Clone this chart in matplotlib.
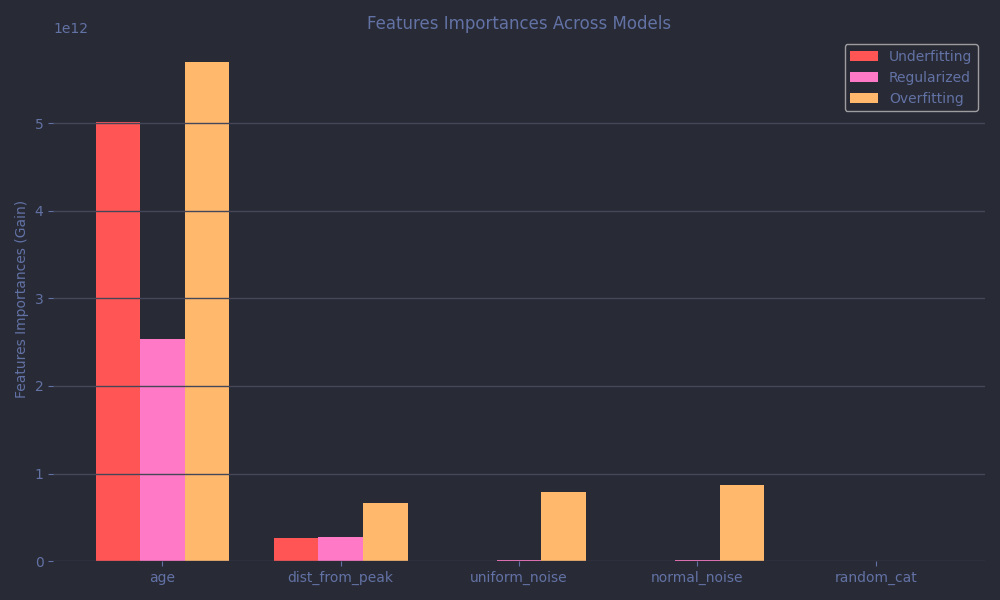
import numpy as np
import matplotlib
matplotlib.use('Agg')
import matplotlib.pyplot as plt

features = ['age', 'dist_from_peak', 'uniform_noise', 'normal_noise', 'random_cat']
underfitting = [5.01e12, 0.26e12, 0.0, 0.0, 0.0]
regularized = [2.535e12, 0.272e12, 0.012e12, 0.012e12, 0.0]
overfitting = [5.695e12, 0.662e12, 0.787e12, 0.868e12, 0.0]

bg = '#282a36'
fg = '#6272a4'
grid = '#44475a'

fig, ax = plt.subplots(figsize=(10, 6), dpi=100)
fig.patch.set_facecolor(bg)
ax.set_facecolor(bg)

x = np.arange(len(features))
w = 0.25
ax.bar(x - w, underfitting, w, color='#ff5555', label='Underfitting')
ax.bar(x, regularized, w, color='#ff79c6', label='Regularized')
ax.bar(x + w, overfitting, w, color='#ffb86c', label='Overfitting')

ax.set_xticks(x)
ax.set_xticklabels(features)
ax.set_title('Features Importances Across Models', color=fg, fontsize=12)
ax.set_ylabel('Features Importances (Gain)', color=fg)

for s in ax.spines.values():
    s.set_visible(False)
ax.tick_params(colors=fg, labelcolor=fg)
ax.yaxis.get_offset_text().set_color(fg)
ax.set_axisbelow(False)
ax.grid(axis='y', color=grid, linewidth=1)

leg = ax.legend(facecolor=bg, edgecolor='#bbbbbb', labelcolor=fg)

fig.tight_layout()
fig.savefig('out.png', facecolor=bg)
